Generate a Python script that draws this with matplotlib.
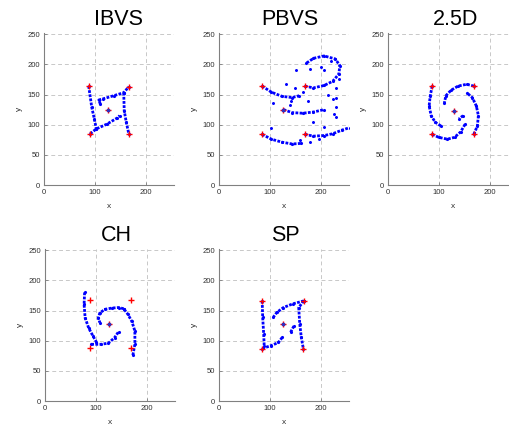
import matplotlib.pyplot as plt

plt.rcParams['font.family'] = ['Liberation Sans', 'DejaVu Sans']

titles = ['IBVS', 'PBVS', '2.5D', 'CH', 'SP']
x_ticks = [0, 100, 200]
y_ticks = [0, 50, 100, 150, 200, 250]

# red markers: four corner features + centre
ibvs_marks_x = [88, 167, 127, 91, 167]
ibvs_marks_y = [164, 163, 125, 85, 85]
pbvs_marks_x = [85, 169, 127, 85, 169]
pbvs_marks_y = [164, 164, 125, 84, 84]
d25_marks_x = [87, 169, 130, 87, 169]
d25_marks_y = [164, 164, 123, 84, 84]
ch_marks_x = [88, 169, 127, 88, 169]
ch_marks_y = [168, 168, 127, 88, 88]
sp_marks_x = [85, 167, 127, 85, 166]
sp_marks_y = [166, 166, 128, 87, 87]

# feature trajectories (x list, y list)
ibvs_paths = [
    ([88, 94, 99, 103], [164, 129, 110, 93]),
    ([91, 103, 124, 144, 149], [85, 93, 101, 111, 115]),
    ([111, 108, 117, 137, 157, 167], [134, 141, 143, 148, 153, 163]),
    ([157, 158, 162, 167], [153, 123, 104, 85]),
]
pbvs_paths = [
    ([85, 103, 124, 144, 158], [164, 154, 147, 145, 148]),
    ([169, 186, 207, 224, 236, 238, 229, 207, 186, 172],
     [164, 161, 165, 172, 184, 198, 209, 214, 210, 202]),
    ([127, 144, 165, 186, 207], [125, 120, 119, 121, 125]),
    ([85, 103, 124, 144, 162], [84, 76, 71, 68, 69]),
    ([169, 186, 207, 224, 242, 257], [84, 81, 82, 85, 91, 95]),
]
pbvs_scatter_x = [106, 131, 151, 103, 179, 207, 224, 186, 207, 231, 231, 231, 231,
                  175, 165, 150, 142, 160, 196, 214, 201, 220, 140, 236, 226, 180]
pbvs_scatter_y = [136, 168, 190, 94, 192, 190, 142, 105, 96, 160, 145, 130, 112,
                  140, 155, 160, 140, 75, 76, 150, 196, 205, 133, 175, 118, 72]
d25_paths = [
    ([87, 83, 81, 85, 93, 104], [164, 147, 131, 115, 104, 98]),
    ([87, 100, 117, 131, 143, 152], [84, 79, 76, 79, 88, 101]),
    ([169, 176, 178, 174, 166, 155], [84, 98, 115, 131, 145, 153]),
    ([169, 155, 138, 124, 114, 111], [164, 167, 164, 157, 148, 136]),
    ([148, 140], [115, 110]),
]
ch_paths = [
    ([78, 77, 79, 86, 95, 101], [180, 160, 138, 121, 107, 98]),
    ([91, 111, 125, 137, 145], [94, 94, 96, 105, 115]),
    ([173, 177, 177, 171, 163, 155], [76, 94, 116, 132, 144, 153]),
    ([155, 145, 131, 118, 108, 105, 108], [153, 155, 154, 152, 146, 138, 130]),
]
sp_paths = [
    ([85, 86, 88, 89], [166, 139, 111, 92]),
    ([85, 103, 117, 125], [87, 92, 97, 106]),
    ([141, 148], [114, 125]),
    ([167, 157, 159, 162, 166], [166, 155, 128, 106, 87]),
    ([167, 145, 127, 114, 107], [166, 161, 155, 147, 139]),
]

marks = [(ibvs_marks_x, ibvs_marks_y), (pbvs_marks_x, pbvs_marks_y),
         (d25_marks_x, d25_marks_y), (ch_marks_x, ch_marks_y), (sp_marks_x, sp_marks_y)]
paths = [ibvs_paths, pbvs_paths, d25_paths, ch_paths, sp_paths]

fig = plt.figure(figsize=(5.10, 4.25), dpi=100)
W, H = 510, 425
# axes boxes in pixels: left, top
boxes = [(44, 33), (219, 33), (388, 33), (45, 249), (219, 249)]
title_x = [0.57, 0.546, 0.52, 0.546, 0.51]
aw, ah = 130, 152

for i, (left, top) in enumerate(boxes):
    ax = fig.add_axes([left / W, 1 - (top + ah) / H, aw / W, ah / H])
    for xs, ys in paths[i]:
        ax.plot(xs, ys, color='blue', ls=(0, (1, 0.5)), lw=2.0, marker='.', ms=2.5,
                zorder=3)
    if i == 1:
        ax.plot(pbvs_scatter_x, pbvs_scatter_y, '.', color='blue', ms=2.3, zorder=3)
    mx, my = marks[i]
    ax.plot(mx, my, '+', color='red', ms=4.5, mew=1.0, zorder=4)
    # centre feature
    ax.plot(mx[2], my[2], '.', color='#3030c0', ms=3.5, zorder=5)

    ax.set_xlim(0, 256)
    ax.set_ylim(0, 252)
    ax.set_xticks(x_ticks)
    ax.set_yticks(y_ticks)
    ax.grid(True, color='#c8c8c8', ls=(0, (4, 3)), lw=0.7)
    ax.set_axisbelow(True)
    for s in ['top', 'right']:
        ax.spines[s].set_visible(False)
    for s in ['left', 'bottom']:
        ax.spines[s].set_color('#808080')
        ax.spines[s].set_linewidth(0.8)
    ax.tick_params(direction='in', length=2, width=0.6, color='#808080',
                   labelsize=5.5, labelcolor='#303030', pad=3)
    ax.set_xlabel('x', fontsize=6, color='#303030', labelpad=5)
    ax.set_ylabel('y', fontsize=6, color='#303030', labelpad=3)
    ax.set_title(titles[i], fontsize=15.5, pad=6, x=title_x[i])

fig.savefig('out.png', dpi=100)
